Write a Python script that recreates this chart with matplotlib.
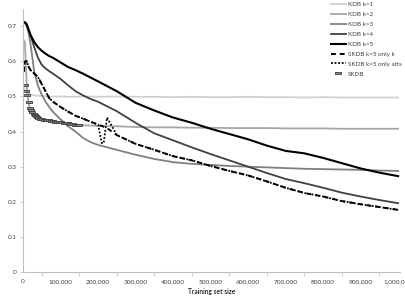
import matplotlib
matplotlib.use("Agg")
import matplotlib.pyplot as plt
from matplotlib.ticker import FixedLocator

plt.rcParams['font.family'] = ['Lato', 'DejaVu Sans']

# ---- data ----
x = [2000, 5000, 10000, 15000, 20000, 30000, 40000, 50000, 60000, 70000, 80000,
     100000, 120000, 140000, 160000, 180000, 200000, 250000, 300000, 350000,
     400000, 450000, 500000, 550000, 600000, 650000, 700000, 750000, 800000,
     850000, 900000, 950000, 1000000]

kdb_k1 = [0.530, 0.520, 0.512, 0.507, 0.505, 0.503, 0.502, 0.502, 0.501, 0.500, 0.500,
          0.500, 0.499, 0.499, 0.500, 0.500, 0.499, 0.500, 0.499, 0.499,
          0.498, 0.499, 0.498, 0.498, 0.499, 0.498, 0.498, 0.497, 0.498,
          0.497, 0.497, 0.497, 0.497]
kdb_k2 = [0.660, 0.655, 0.530, 0.480, 0.460, 0.445, 0.440, 0.435, 0.432, 0.430, 0.428,
          0.425, 0.422, 0.420, 0.418, 0.417, 0.416, 0.415, 0.413, 0.412,
          0.412, 0.411, 0.411, 0.410, 0.410, 0.410, 0.409, 0.409, 0.409,
          0.408, 0.408, 0.408, 0.408]
kdb_k3 = [0.710, 0.710, 0.700, 0.680, 0.650, 0.570, 0.530, 0.505, 0.485, 0.470, 0.456,
          0.435, 0.415, 0.400, 0.382, 0.370, 0.362, 0.348, 0.334, 0.322,
          0.313, 0.308, 0.305, 0.302, 0.300, 0.298, 0.296, 0.294, 0.293,
          0.292, 0.291, 0.289, 0.288]
kdb_k4 = [0.710, 0.710, 0.705, 0.690, 0.675, 0.640, 0.610, 0.590, 0.580, 0.572, 0.565,
          0.550, 0.532, 0.515, 0.503, 0.493, 0.485, 0.458, 0.425, 0.395,
          0.375, 0.355, 0.336, 0.318, 0.300, 0.282, 0.265, 0.253, 0.240,
          0.226, 0.215, 0.205, 0.196]
kdb_k5 = [0.710, 0.712, 0.705, 0.690, 0.675, 0.655, 0.640, 0.630, 0.622, 0.615, 0.610,
          0.597, 0.584, 0.575, 0.565, 0.554, 0.543, 0.515, 0.482, 0.460,
          0.440, 0.425, 0.408, 0.393, 0.378, 0.360, 0.345, 0.338, 0.325,
          0.310, 0.295, 0.283, 0.273]

x_only = [2000, 5000, 10000, 15000, 20000, 30000, 40000, 50000, 60000, 70000, 80000,
          100000, 120000, 140000, 160000, 180000, 200000, 210000, 215000, 224000,
          250000, 300000, 350000, 400000, 450000, 500000, 550000, 600000, 650000,
          700000, 750000, 800000, 850000, 900000, 950000, 1000000]
skdb_only_k = [0.570, 0.600, 0.600, 0.585, 0.575, 0.565, 0.555, 0.535, 0.515, 0.495, 0.485,
               0.470, 0.457, 0.445, 0.437, 0.428, 0.420, 0.416, 0.414, 0.410,
               0.390, 0.365, 0.348, 0.330, 0.318, 0.302, 0.288, 0.275, 0.258,
               0.240, 0.225, 0.215, 0.202, 0.193, 0.185, 0.177]
skdb_only_atts = [0.570, 0.600, 0.600, 0.585, 0.575, 0.565, 0.555, 0.535, 0.515, 0.495, 0.485,
                  0.470, 0.457, 0.445, 0.437, 0.428, 0.420, 0.367, 0.367, 0.440,
                  0.390, 0.365, 0.348, 0.330, 0.318, 0.302, 0.288, 0.275, 0.258,
                  0.240, 0.225, 0.215, 0.202, 0.193, 0.185, 0.177]

x_skdb = [5000, 8000, 11000, 15000, 19000, 22000, 25000, 28000, 31000, 34000, 37000,
          41000, 45000, 50000, 55000, 60000, 65000, 70000, 75000, 80000, 85000,
          90000, 96000, 102000, 108000, 114000, 120000, 126000, 132000, 138000,
          144000, 150000]
skdb = [0.533, 0.515, 0.504, 0.485, 0.467, 0.461, 0.455, 0.451, 0.447, 0.444, 0.442,
        0.440, 0.437, 0.436, 0.434, 0.433, 0.433, 0.432, 0.430, 0.429, 0.428,
        0.427, 0.426, 0.426, 0.425, 0.424, 0.423, 0.422, 0.421, 0.420,
        0.419, 0.418]

xtick_vals = [0, 100000, 200000, 300000, 400000, 500000, 600000, 700000, 800000, 900000, 1000000]
xtick_labels = ['0', '100,000', '200,000', '300,000', '400,000', '500,000', '600,000',
                '700,000', '800,000', '900,000', '1,000,000']
ytick_vals = [0, 0.1, 0.2, 0.3, 0.4, 0.5, 0.6, 0.7]
ytick_labels = ['0', '0.1', '0.2', '0.3', '0.4', '0.5', '0.6', '0.7']

# ---- figure ----
fig = plt.figure(figsize=(4.06, 3.03), dpi=100)
ax = fig.add_axes([23/406, 1-272/303, 377/406, 263.3/303])

ax.plot(x, kdb_k1, color='#d0d0d0', lw=1.3, label='KDB k=1')
ax.plot(x, kdb_k2, color='#a6a6a6', lw=1.3, label='KDB k=2')
ax.plot(x, kdb_k3, color='#808080', lw=1.3, label='KDB k=3')
ax.plot(x, kdb_k4, color='#404040', lw=1.3, label='KDB k=4')
ax.plot(x, kdb_k5, color='#000000', lw=1.5, label='KDB k=5')
ax.plot(x_only, skdb_only_k, color='#000000', lw=1.4, ls=(0, (2.5, 2)), label='SKDB k=5 only k')
ax.plot(x_only, skdb_only_atts, color='#000000', lw=1.3, ls=(0, (1, 1)), label='SKDB k=5 only atts')
rect = [(-1, -0.4), (1, -0.4), (1, 0.4), (-1, 0.4), (-1, -0.4)]
ax.plot(x_skdb, skdb, ls='none', marker=rect, ms=4.5, mfc='#8a8a8a', mec='#404040',
        mew=0.6, label='SKDB')

ax.set_xlim(0, 1005000)
ax.set_ylim(0, 0.75)
ax.set_xticks(xtick_vals)
ax.set_xticklabels(xtick_labels)
ax.xaxis.set_minor_locator(FixedLocator([50000 + 100000*i for i in range(10)]))
ax.set_yticks(ytick_vals)
ax.set_yticklabels(ytick_labels)

for s in ['top', 'right']:
    ax.spines[s].set_visible(False)
for s in ['left', 'bottom']:
    ax.spines[s].set_color('#c0c0c0')
    ax.spines[s].set_linewidth(0.8)

ax.tick_params(axis='x', which='major', length=0, pad=5, labelsize=4.6, labelcolor='#404040')
ax.tick_params(axis='x', which='minor', length=3, width=0.6, color='#c0c0c0')
ax.tick_params(axis='y', which='major', length=2.5, width=0.6, color='#c0c0c0',
               pad=2, labelsize=4.6, labelcolor='#404040')

ax.set_xlabel('Training set size', fontsize=4.8, fontweight='bold', color='#303030', labelpad=3)

leg = ax.legend(loc='upper left', bbox_to_anchor=(331/406, 1-2/303),
                bbox_transform=fig.transFigure, frameon=False, fontsize=4.5,
                handlelength=2.4, handletextpad=0.3, labelspacing=0.72,
                numpoints=1, borderaxespad=0, borderpad=0)
for t in leg.get_texts():
    t.set_color('#404040')

fig.savefig('out.png', dpi=100)
